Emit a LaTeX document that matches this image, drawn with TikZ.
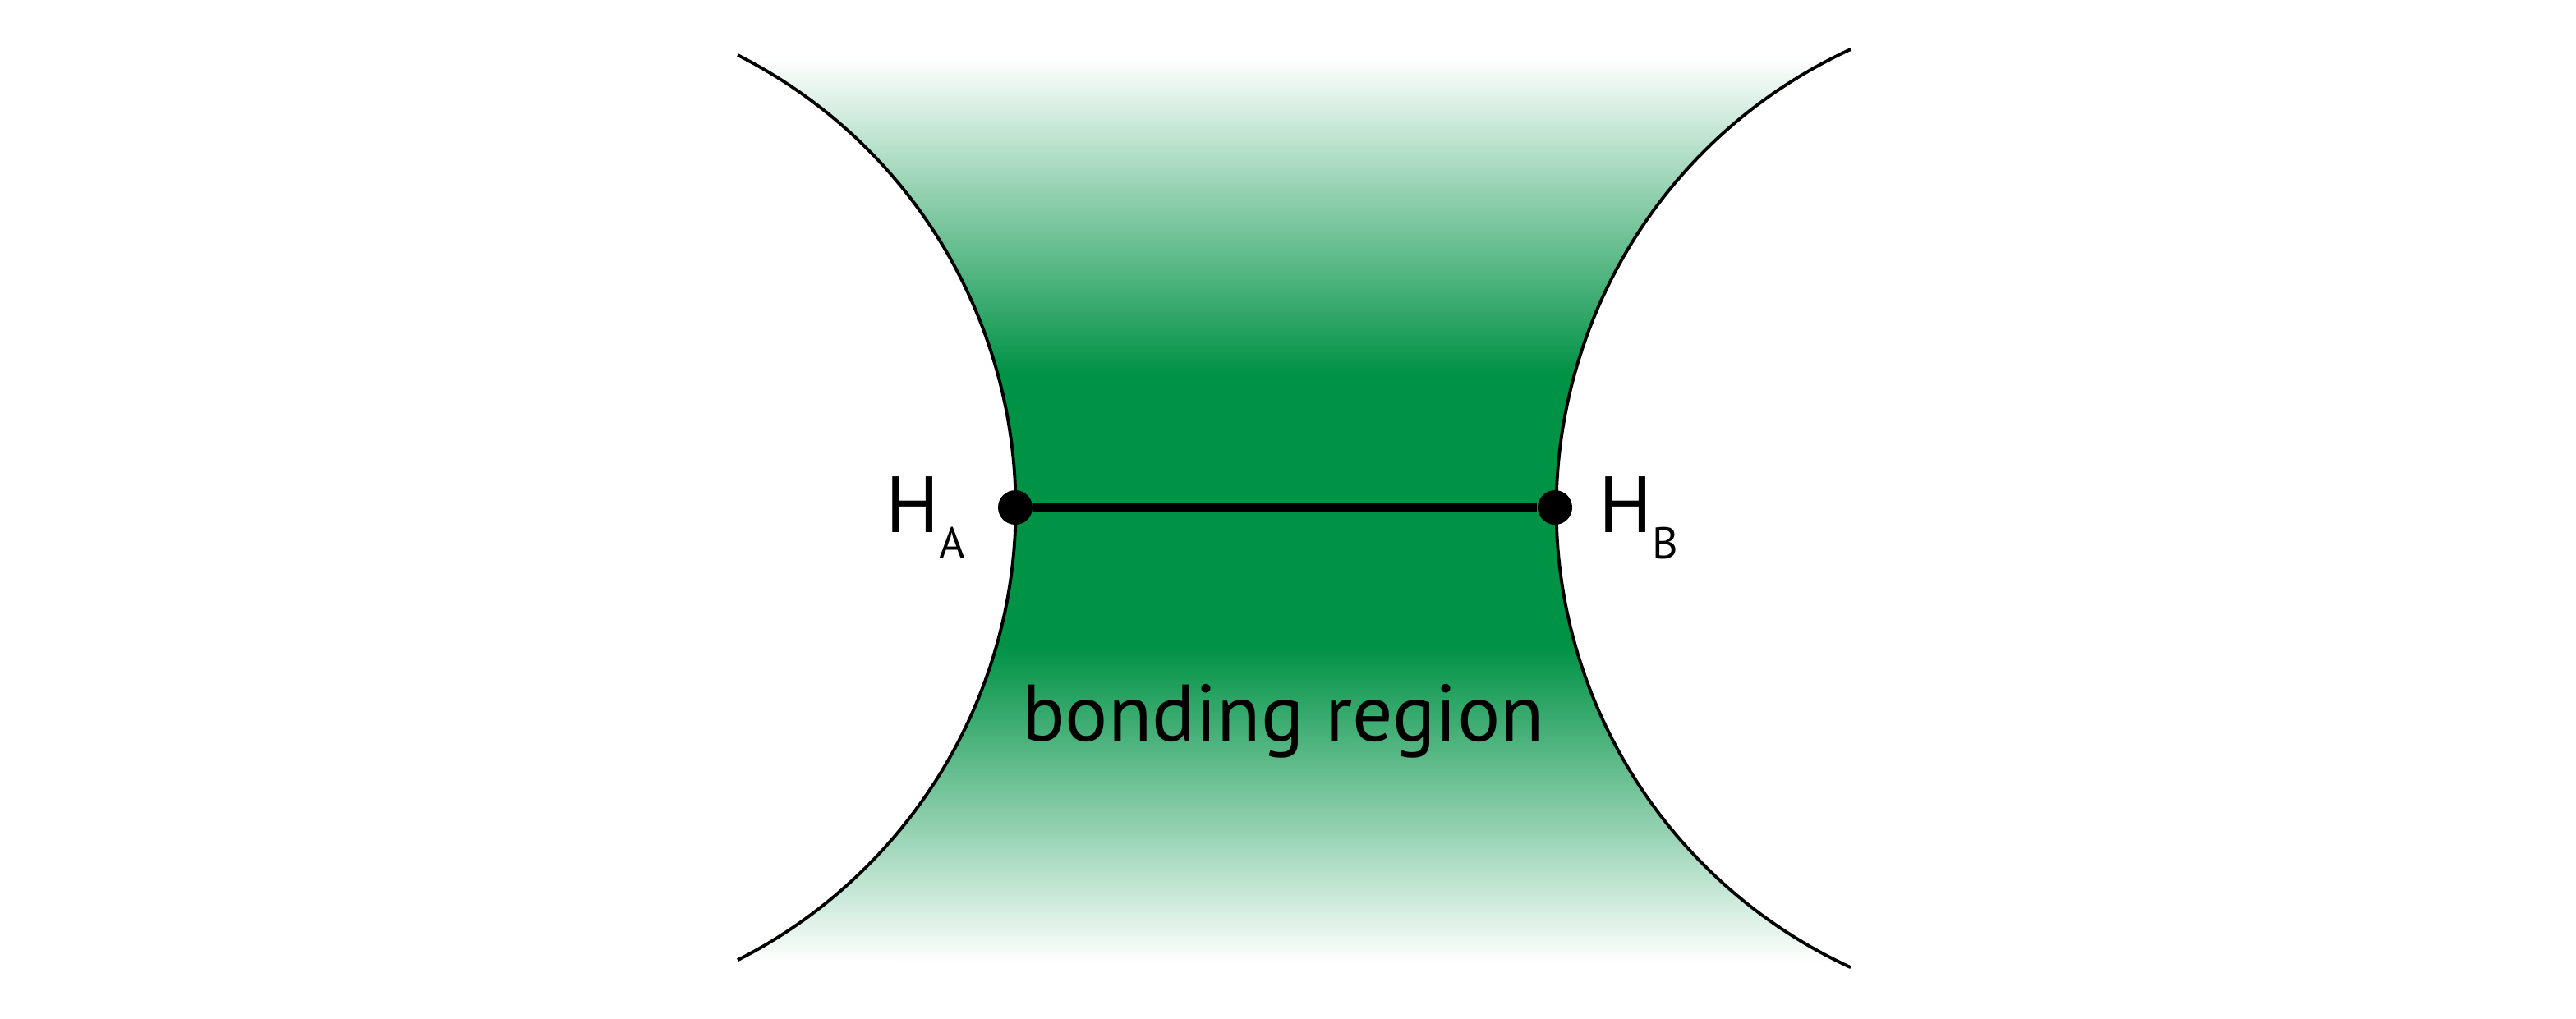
\documentclass[tikz,border=0pt]{standalone}
\usepackage{fontspec}
\setmainfont{PT Sans}
\usepackage{tikz}
\usetikzlibrary{positioning}
\definecolor{BondGreen}{HTML}{009245}
\pgfdeclareverticalshading{bondfade}{100bp}{color(0bp)=(white); color(25bp)=(white); color(42.5bp)=(BondGreen); color(57.5bp)=(BondGreen); color(75bp)=(white); color(100bp)=(white)}

\begin{document}
\begin{tikzpicture}[
  atom/.style={circle, fill=black, inner sep=0pt, minimum size=0.42cm},
  atomlabel/.style={inner sep=0pt, font=\fontsize{27.6}{27.6}\selectfont},
  shell/.style={draw=black, line width=1.1pt},
  bond/.style={line width=3.6pt, black}
]
\useasboundingbox (0,0) rectangle (31.36,-12.40);
% shaded region between the two spheres
\begin{scope}
  \clip (8.98,-0.67) arc[start angle=63.1, end angle=-63.1, radius=6.18]
    -- (22.53,-11.78) arc[start angle=245.3, end angle=114.7, radius=6.154] -- cycle;
  \shade[shading=bondfade] (8.5,-0.71) rectangle (23.0,-11.72);
\end{scope}
\draw[shell] (8.98,-0.67) arc[start angle=63.1, end angle=-63.1, radius=6.18];
\draw[shell] (22.53,-0.60) arc[start angle=114.7, end angle=245.3, radius=6.154];
\node[atom] (HA) at (12.36,-6.18) {};
\node[atom] (HB) at (18.93,-6.18) {};
\draw[bond] (HA) -- (HB);
\node[atomlabel, anchor=base west] (labA) at (10.78,-6.48) {H\raisebox{-0.32cm}{\fontsize{15.4}{15.4}\selectfont A}};
\node[atomlabel, anchor=base west] (labB) at (19.46,-6.48) {H\raisebox{-0.32cm}{\fontsize{15.4}{15.4}\selectfont B}};
\node[anchor=base, inner sep=0pt, font=\fontsize{27.8}{27.8}\selectfont] (region) at (15.62,-9.02) {bonding region};
\end{tikzpicture}
\end{document}
